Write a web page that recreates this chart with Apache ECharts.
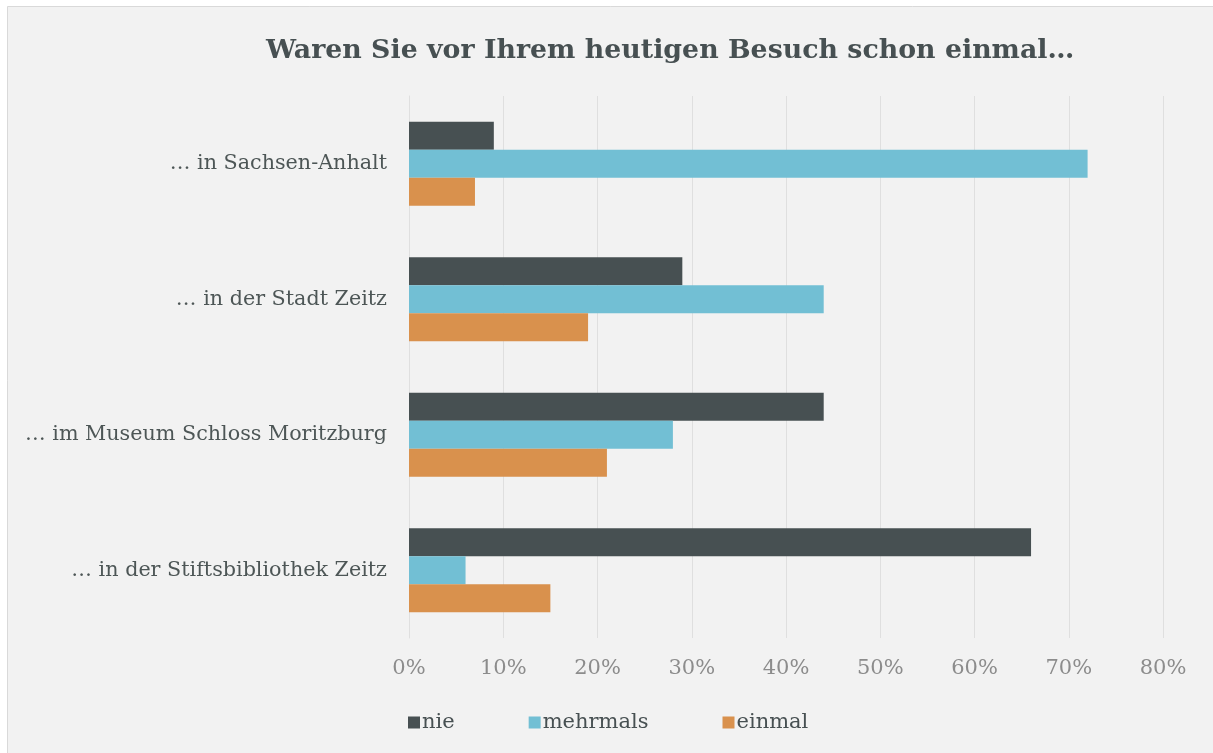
<!DOCTYPE html>
<html>
<head>
<meta charset="utf-8">
<script src="https://cdn.jsdelivr.net/npm/echarts@6/dist/echarts.min.js"></script>
<style>
  html, body { margin: 0; padding: 0; background: #fff; }
  #chart { width: 1213px; height: 753px; }
</style>
</head>
<body>
<div id="chart"></div>
<script>
// Kategorien (von oben nach unten)
const categories = [
  '… in Sachsen-Anhalt',
  '… in der Stadt Zeitz',
  '… im Museum Schloss Moritzburg',
  '… in der Stiftsbibliothek Zeitz'
]
// Anteile in Prozent
const nie = [9, 29, 44, 66]
const mehrmals = [72, 44, 28, 6]
const einmal = [7, 19, 21, 15]
const tickMax = 80

const colors = ['#475052', '#72BFD4', '#D9914D']
const serif = '"DejaVu Serif", "Liberation Serif", serif'

const chart = echarts.init(document.getElementById('chart'))

const makeSeries = (name, values, index) => ({
  name,
  type: 'bar',
  data: values,
  barWidth: 28,
  barGap: '0%',
  itemStyle: { color: colors[index] },
  animation: false
})

chart.setOption({
  backgroundColor: '#fff',
  graphic: [{
    type: 'rect',
    silent: true,
    z: -10,
    shape: { x: 7.5, y: 6.5, width: 1240, height: 780 },
    style: { fill: '#F2F2F2', stroke: '#D9D9D9', lineWidth: 1 }
  }],
  title: {
    text: 'Waren Sie vor Ihrem heutigen Besuch schon einmal…',
    left: 261,
    top: 33,
    textStyle: {
      fontFamily: serif,
      fontSize: 26.8,
      fontWeight: 'bold',
      color: '#475052'
    }
  },
  legend: {
    data: ['nie', 'mehrmals', 'einmal'],
    left: 403,
    top: 707,
    itemWidth: 12,
    itemHeight: 12,
    itemGap: 74,
    icon: 'rect',
    textStyle: { fontFamily: serif, fontSize: 21, color: '#475052', padding: [0, 0, 0, -3] }
  },
  grid: {
    left: 409,
    right: 50,
    top: 96,
    bottom: 115
  },
  xAxis: {
    type: 'value',
    min: 0,
    max: tickMax,
    interval: 10,
    axisLine: { show: false },
    axisTick: { show: false },
    axisLabel: {
      formatter: '{value}%',
      fontFamily: serif,
      fontSize: 21,
      color: '#8C8C8C',
      margin: 20
    },
    splitLine: { lineStyle: { color: '#DFDFDF', width: 1 } }
  },
  yAxis: {
    type: 'category',
    data: categories,
    inverse: true,
    axisLine: { lineStyle: { color: '#DFDFDF' } },
    axisTick: { show: false },
    axisLabel: {
      fontFamily: serif,
      fontSize: 20.7,
      color: '#4D5656',
      margin: 22
    }
  },
  series: [
    makeSeries('nie', nie, 0),
    makeSeries('mehrmals', mehrmals, 1),
    makeSeries('einmal', einmal, 2)
  ]
})

window.addEventListener('resize', () => chart.resize())
</script>
</body>
</html>
